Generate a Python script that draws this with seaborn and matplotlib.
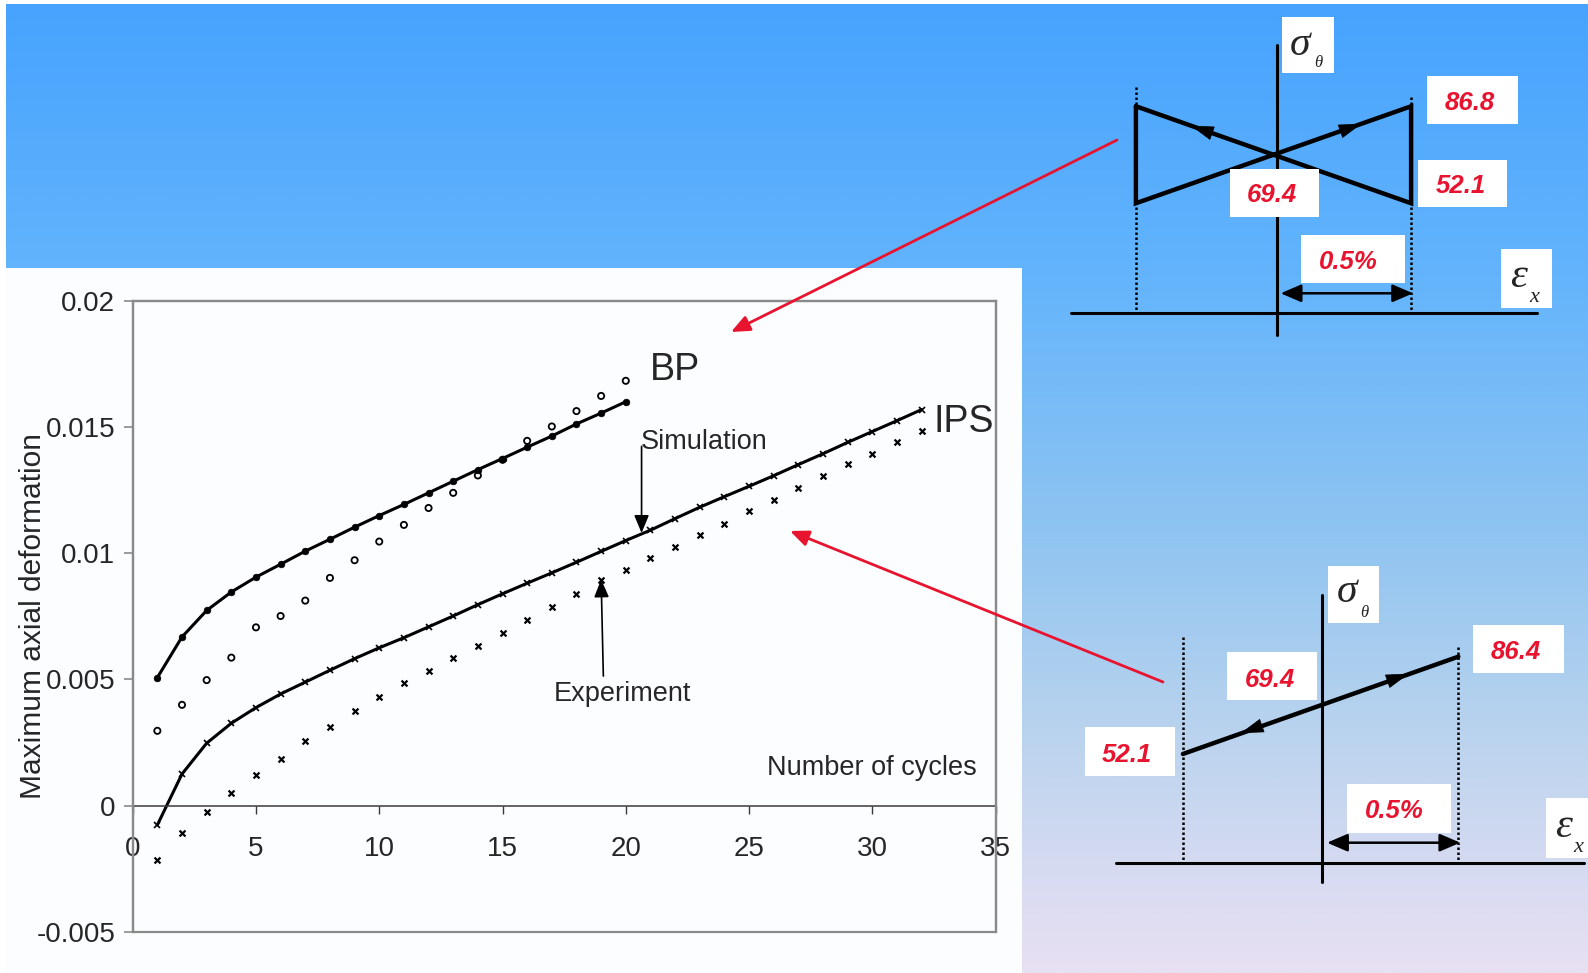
import numpy as np
import matplotlib
matplotlib.use("Agg")
import matplotlib.pyplot as plt
import seaborn as sns
from matplotlib.patches import Rectangle
from matplotlib.colors import LinearSegmentedColormap

# ---------------- data ----------------
cycles_bp = list(range(1, 21))
cycles_ips = list(range(1, 33))

bp_simulation = [0.00507, 0.00668, 0.00773, 0.00846, 0.00905, 0.00956, 0.01008,
                 0.01055, 0.01103, 0.01149, 0.01193, 0.01239, 0.01285, 0.01331,
                 0.01375, 0.01420, 0.01464, 0.01512, 0.01555, 0.01600]
bp_experiment = [0.00296, 0.00399, 0.00497, 0.00586, 0.00706, 0.00751, 0.00812,
                 0.00902, 0.00972, 0.01046, 0.01112, 0.01179, 0.01239, 0.01308,
                 0.01370, 0.01445, 0.01502, 0.01563, 0.01623, 0.01683]
ips_simulation = [-0.00077, 0.00125, 0.00247, 0.00326, 0.00388, 0.00442, 0.00489,
                  0.00536, 0.00582, 0.00625, 0.00665, 0.00708, 0.00751, 0.00796,
                  0.00839, 0.00881, 0.00922, 0.00964, 0.01007, 0.01050, 0.01091,
                  0.01137, 0.01182, 0.01224, 0.01265, 0.01307, 0.01351, 0.01394,
                  0.01439, 0.01482, 0.01525, 0.01569]
ips_experiment = [-0.00216, -0.00110, -0.00025, 0.00049, 0.00120, 0.00186, 0.00257,
                  0.00311, 0.00373, 0.00430, 0.00487, 0.00533, 0.00583, 0.00632,
                  0.00683, 0.00736, 0.00788, 0.00839, 0.00892, 0.00933, 0.00979,
                  0.01024, 0.01073, 0.01116, 0.01166, 0.01210, 0.01257, 0.01305,
                  0.01355, 0.01392, 0.01439, 0.01485]

x_ticks = [0, 5, 10, 15, 20, 25, 30, 35]
y_ticks = [-0.005, 0, 0.005, 0.01, 0.015, 0.02]
y_tick_labels = ["-0.005", "0", "0.005", "0.01", "0.015", "0.02"]

# loading paths (strain amplitude in %, hoop stress levels)
strain_amp = 0.5
bp_stress = {"low": 52.1, "mean": 69.4, "high": 86.8}
ips_stress = {"low": 52.1, "mean": 69.4, "high": 86.4}

# ---------------- style ----------------
sns.set_style("white")
plt.rcParams["font.family"] = ["Liberation Sans", "DejaVu Sans"]

W, H = 1588, 973
fig = plt.figure(figsize=(W / 100, H / 100), dpi=100, facecolor="white")

# slide background: gradient plus white panel behind the chart
bg = fig.add_axes([0, 0, 1, 1], zorder=0)
stops = [(0.0, "#47a3fe"), (0.28, "#63b4fc"), (0.55, "#90c4f1"),
         (0.72, "#b3d1ee"), (0.9, "#d7dbf1"), (1.0, "#e8e0f3")]
cmap = LinearSegmentedColormap.from_list("slide", stops)
grad = np.linspace(0, 1, 512).reshape(-1, 1)
bg.imshow(grad, cmap=cmap, extent=(6, W, H, 4), aspect="auto",
          interpolation="bilinear")
bg.add_patch(Rectangle((6, 268), 1016, H - 268, color="#fbfdff", lw=0))
bg.set_xlim(0, W)
bg.set_ylim(H, 0)
bg.axis("off")

# ---------------- chart ----------------
ax = fig.add_axes([132.7 / W, 1 - 931.7 / H, 862.9 / W, 630.9 / H], zorder=2)
ax.patch.set_alpha(0)

sns.lineplot(x=cycles_bp, y=bp_simulation, ax=ax, color="black", lw=2.2,
             marker="o", markersize=4.8, markeredgecolor="black",
             markeredgewidth=0.5)
sns.lineplot(x=cycles_ips, y=ips_simulation, ax=ax, color="black", lw=2.2,
             marker="x", markersize=4.5, markeredgecolor="black",
             markeredgewidth=1.2)
sns.scatterplot(x=cycles_bp, y=bp_experiment, ax=ax, marker="o", s=20,
                facecolors="none", edgecolors="black", linewidth=1.3)
sns.scatterplot(x=cycles_ips, y=ips_experiment, ax=ax, marker="x", s=18,
                color="black", linewidth=1.6)

ax.set_xlim(0, 35)
ax.set_ylim(-0.005, 0.02)
ax.set_xticks(x_ticks)
ax.set_xticklabels([str(v) for v in x_ticks])
ax.set_yticks(y_ticks)
ax.set_yticklabels(y_tick_labels)

frame_col = "#8a8a8a"
for side in ["left", "top", "right"]:
    ax.spines[side].set_color(frame_col)
    ax.spines[side].set_linewidth(1.6)
ax.spines["bottom"].set_position(("data", 0))
ax.spines["bottom"].set_color("#3a3a3a")
ax.spines["bottom"].set_linewidth(1.1)
ax.add_patch(Rectangle((0, 0), 1, 1, transform=ax.transAxes, fill=False,
                       ec=frame_col, lw=1.6, clip_on=False, zorder=3))

ax.tick_params(axis="x", direction="out", length=5.8, width=1.0,
               color="#3a3a3a", pad=16.5, labelsize=20, bottom=True)
ax.tick_params(axis="y", direction="out", length=6.5, width=1.2,
               color=frame_col, pad=6, labelsize=20, left=True)

ax.set_ylabel("Maximum axial deformation", fontsize=21.5)
ax.yaxis.label.set_verticalalignment("center")
ax.yaxis.set_label_coords(-0.115, 0.5)

ax.text(20.99, 0.01687, "BP", fontsize=27)
ax.text(32.47, 0.01482, "IPS", fontsize=27)
ax.text(20.6, 0.01414, "Simulation", fontsize=19.5)
ax.text(19.86, 0.004135, "Experiment", fontsize=19.5, ha="center")
ax.text(25.72, 0.0012, "Number of cycles", fontsize=19.5)

arrow_kw = dict(arrowstyle="-|>,head_length=0.6,head_width=0.25", color="black",
                lw=1.2, shrinkA=0, shrinkB=0, mutation_scale=18)
ax.annotate("", xy=(20.64, 0.0108), xytext=(20.64, 0.01423), arrowprops=arrow_kw)
ax.annotate("", xy=(19.0, 0.00896), xytext=(19.09, 0.00513), arrowprops=arrow_kw)

# ---------------- loading path sketches ----------------
ov = fig.add_axes([0, 0, 1, 1], zorder=5)
ov.set_xlim(0, W)
ov.set_ylim(H, 0)
ov.axis("off")

RED = "#e8142f"


def label_box(x0, y0, x1, y1):
    ov.add_patch(Rectangle((x0, y0), x1 - x0, y1 - y0, color="white", lw=0,
                           zorder=4))


def red_label(x, y, txt):
    ov.text(x, y, txt, color=RED, fontsize=18.5, fontweight="bold",
            fontstyle="italic", ha="center", va="baseline", zorder=6)


def serif(x, y, txt, size):
    ov.text(x, y, txt, fontsize=size, fontstyle="italic",
            family=["Liberation Serif", "DejaVu Serif"], ha="center",
            va="baseline", zorder=6)


def mapper(cx, cy, px_pct, px_mpa, mean):
    return lambda e, s: (cx + e * px_pct, cy - (s - mean) * px_mpa)


def mid_arrow(p_from, p_to):
    ov.annotate("", xy=p_to, xytext=p_from, zorder=5,
                arrowprops=dict(arrowstyle="-|>,head_length=0.9,head_width=0.28",
                                color="black", lw=0.5, shrinkA=0, shrinkB=0,
                                mutation_scale=17))


def double_arrow(x0, x1, y):
    ov.annotate("", xy=(x1, y), xytext=(x0, y), zorder=5,
                arrowprops=dict(arrowstyle="<|-|>,head_length=0.7,head_width=0.3",
                                color="black", lw=1.8, shrinkA=0, shrinkB=0,
                                mutation_scale=18))


# BP: butterfly path
p = mapper(1273.5, 154.9, 275.2, 2.795, bp_stress["mean"])
lo, mid, hi = bp_stress["low"], bp_stress["mean"], bp_stress["high"]
ov.plot([1070.6, 1536.6], [312.7, 312.7], color="black", lw=2.2, zorder=3)
ov.plot([1276.5, 1276.5], [45, 335], color="black", lw=2.2, zorder=3)
for e, ytop in [(-strain_amp, 87.3), (strain_amp, 96.7)]:
    ov.plot([p(e, 0)[0]] * 2, [ytop, 312.7], color="black", lw=1.8,
            ls=(0, (1, 1)), zorder=3)
path = [p(-strain_amp, hi), p(strain_amp, lo), p(strain_amp, hi),
        p(-strain_amp, lo), p(-strain_amp, hi)]
ov.plot([q[0] for q in path], [q[1] for q in path], color="black", lw=3.2,
        solid_joinstyle="miter", zorder=3)
slope = (hi - mid) / strain_amp
mid_arrow(p(-0.22, mid + slope * 0.22), p(-0.30, mid + slope * 0.30))
mid_arrow(p(0.24, mid + slope * 0.24), p(0.32, mid + slope * 0.32))
double_arrow(1280.6, p(strain_amp, 0)[0] + 2, 293.3)

label_box(1282.3, 16.7, 1333.8, 73.3)
serif(1300, 55, "σ", 30)
serif(1318.5, 67.3, "θ", 12)
label_box(1500.6, 249.3, 1552, 308.3)
serif(1519, 286.7, "ε", 31)
serif(1534, 301.7, "x", 16)
label_box(1426.8, 75.7, 1518.4, 124)
red_label(1470, 110, f"{hi}")
label_box(1418.2, 159.7, 1507.1, 207.3)
red_label(1461, 193.3, f"{lo}")
label_box(1229.5, 169, 1318.7, 216.7)
red_label(1272, 202.3, f"{mid}")
label_box(1301.2, 235, 1405.2, 283.3)
red_label(1348, 269.3, f"{strain_amp}%")

# IPS: proportional path
p = mapper(1320.6, 704.9, 275.4, 2.837, ips_stress["mean"])
lo, mid, hi = ips_stress["low"], ips_stress["mean"], ips_stress["high"]
ov.plot([1115.6, 1583.6], [862.7, 862.7], color="black", lw=2.2, zorder=3)
ov.plot([1322.3, 1322.3], [595, 882], color="black", lw=2.2, zorder=3)
for e, ytop in [(-strain_amp, 636.7), (strain_amp, 646.7)]:
    ov.plot([p(e, 0)[0]] * 2, [ytop, 863], color="black", lw=1.8,
            ls=(0, (1, 1)), zorder=3)
a, b = p(-strain_amp, lo), p(strain_amp, hi)
ov.plot([a[0], b[0]], [a[1], b[1]], color="black", lw=3.2, zorder=3)
slope = (hi - lo) / (2 * strain_amp)
mid_arrow(p(0.24, mid + slope * 0.24), p(0.32, mid + slope * 0.32))
mid_arrow(p(-0.21, mid - slope * 0.21), p(-0.29, mid - slope * 0.29))
double_arrow(1327, p(strain_amp, 0)[0] + 2, 842.7)

label_box(1328, 566, 1379.2, 622.7)
serif(1346.7, 601.7, "σ", 30)
serif(1364, 616.7, "θ", 12)
label_box(1545.9, 798.3, 1588, 858.3)
serif(1564, 836.7, "ε", 31)
serif(1578.5, 851.7, "x", 16)
label_box(1473.1, 625, 1564, 673.3)
red_label(1516, 659.3, f"{hi}")
label_box(1227, 652.3, 1316.6, 700)
red_label(1270, 686.7, f"{mid}")
label_box(1084.9, 727.3, 1174.5, 775.7)
red_label(1127, 762.3, f"{lo}")
label_box(1346.5, 784, 1450.9, 832.7)
red_label(1394, 818.3, f"{strain_amp}%")

# pointers from the sketches to the curves
red_kw = dict(arrowstyle="-|>,head_length=0.7,head_width=0.3", color=RED,
              lw=2.0, shrinkA=0, shrinkB=0, mutation_scale=16)
ov.annotate("", xy=(731, 332), xytext=(1117, 140), arrowprops=red_kw, zorder=7)
ov.annotate("", xy=(790, 531), xytext=(1163, 682), arrowprops=red_kw, zorder=7)

fig.savefig("out.png", dpi=100, facecolor="white")
